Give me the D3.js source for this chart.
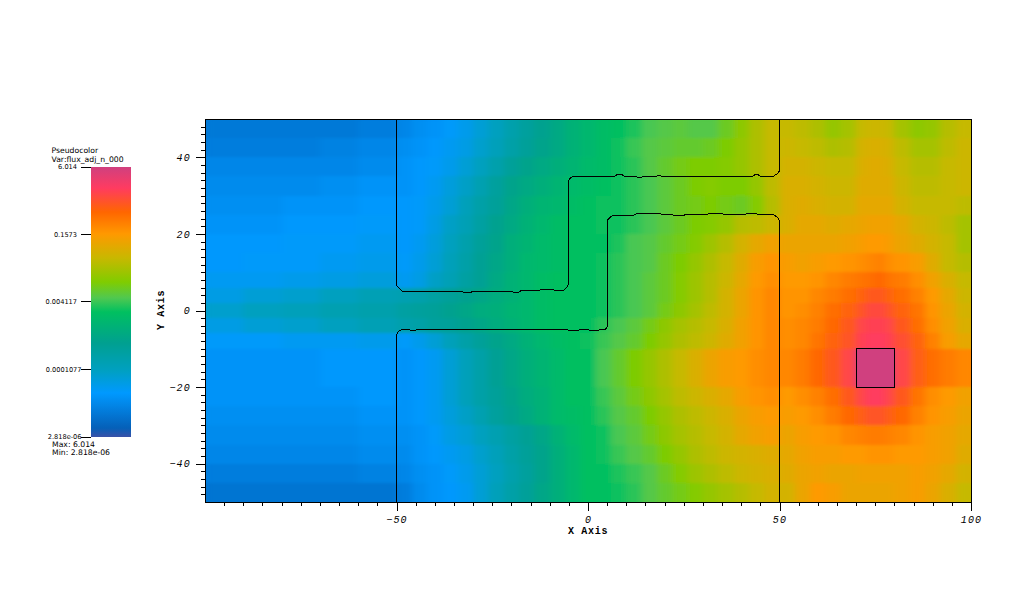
<!DOCTYPE html>
<html lang="en">
  <head>
    <meta charset="UTF-8" />
    <title>Pseudocolor flux_adj_n_000</title>
    <style>
      html, body { margin: 0; background: #fff; }
      svg { display: block; }
      .axis path, .axis line { stroke: #000; shape-rendering: crispEdges; }
      .axis text { font: italic 10px "Liberation Mono", monospace; letter-spacing: 1.2px; fill: #000; }
      .title { font: bold 10px "Liberation Mono", monospace; letter-spacing: 0.7px; fill: #000; }
      .legend text { font: 7.7px "DejaVu Sans", sans-serif; fill: #000; }
      .legend text.tick { font-size: 6.6px; }
    </style>
  </head>
  <body>
    <svg id="chart" width="1024" height="591"></svg>

    <script src="https://d3js.org/d3.v7.min.js"></script>

    <script>
      // cell edges of the mesh, in axis units
      const xEdges = [-100, -90, -80, -70, -60, -50, -46, -42, -38, -34, -30, -26, -22, -18, -14, -10, -6, -2, 2, 6, 10, 14, 18, 22, 26, 30, 34, 38, 42, 46, 50, 54, 58, 62, 66, 70, 72.5, 75, 77.5, 80, 84, 88, 92, 96, 100];
      const yEdges = [50, 45, 40, 35, 30, 25, 20, 15, 10, 6, 2, -2, -6, -10, -20, -25, -30, -35, -40, -45, -50];

      // flux, as % of the way up the log colour bar
      const levels = [
        [9, 9, 9, 9, 10, 12, 14, 15, 17, 19, 22, 25, 29, 32, 35, 38, 41, 43, 45, 46, 48, 51, 52, 53, 52, 52, 55, 59, 63, 66, 66, 65, 63, 60, 62, 66, 67, 67, 66, 62, 59, 60, 64, 66],
        [10, 10, 10, 11, 12, 14, 15, 16, 18, 20, 23, 26, 30, 33, 36, 38, 41, 43, 45, 47, 50, 52, 53, 54, 54, 55, 57, 60, 63, 66, 67, 66, 65, 63, 64, 68, 69, 69, 68, 65, 62, 62, 65, 67],
        [12, 12, 12, 12, 13, 15, 16, 17, 19, 22, 25, 29, 33, 36, 38, 40, 42, 44, 45, 47, 49, 52, 54, 56, 57, 57, 58, 60, 63, 66, 68, 68, 67, 66, 66, 69, 70, 70, 69, 66, 64, 64, 66, 67],
        [13, 13, 13, 14, 15, 15, 16, 18, 21, 24, 28, 32, 36, 38, 40, 42, 44, 45, 46, 47, 49, 51, 53, 55, 57, 58, 57, 57, 60, 65, 69, 69, 68, 67, 67, 70, 70, 70, 70, 67, 65, 65, 66, 67],
        [14, 14, 15, 15, 16, 16, 17, 19, 22, 26, 30, 33, 37, 40, 42, 43, 45, 46, 47, 47, 49, 51, 53, 55, 56, 57, 56, 55, 58, 64, 69, 70, 69, 68, 68, 71, 71, 71, 71, 68, 66, 66, 66, 65],
        [15, 15, 16, 16, 17, 16, 17, 20, 24, 27, 31, 35, 38, 41, 43, 45, 46, 46, 47, 47, 49, 51, 53, 55, 57, 58, 60, 64, 65, 67, 69, 71, 71, 70, 71, 72, 73, 73, 73, 71, 68, 67, 65, 62],
        [16, 16, 17, 17, 18, 16, 18, 21, 25, 29, 33, 36, 40, 42, 44, 45, 46, 46, 46, 48, 51, 52, 54, 56, 58, 61, 64, 68, 71, 73, 72, 72, 72, 72, 73, 74, 75, 75, 74, 72, 70, 68, 66, 62],
        [16, 17, 17, 18, 19, 17, 19, 22, 26, 30, 34, 37, 40, 43, 44, 45, 46, 46, 47, 49, 51, 52, 55, 57, 60, 63, 66, 70, 74, 76, 74, 73, 74, 75, 76, 77, 78, 79, 77, 76, 74, 70, 66, 64],
        [18, 18, 19, 20, 21, 18, 20, 24, 27, 31, 34, 38, 41, 43, 45, 46, 46, 46, 47, 49, 51, 53, 55, 58, 61, 64, 67, 71, 75, 77, 75, 75, 76, 78, 80, 81, 82, 83, 81, 80, 77, 73, 69, 66],
        [20, 22, 23, 25, 27, 28, 29, 31, 33, 35, 37, 39, 41, 43, 45, 46, 46, 46, 47, 49, 51, 53, 55, 58, 61, 64, 68, 72, 76, 78, 76, 76, 78, 80, 82, 84, 86, 86, 84, 82, 79, 75, 71, 67],
        [23, 25, 26, 28, 29, 31, 32, 33, 35, 37, 39, 40, 42, 43, 45, 46, 46, 46, 47, 49, 51, 53, 56, 59, 62, 65, 68, 72, 76, 78, 76, 77, 79, 82, 84, 87, 89, 89, 87, 84, 81, 76, 72, 68],
        [20, 22, 23, 25, 27, 29, 30, 32, 33, 35, 37, 39, 41, 43, 45, 46, 46, 46, 49, 51, 53, 56, 59, 62, 64, 66, 69, 73, 76, 78, 77, 78, 80, 83, 86, 90, 91, 91, 90, 86, 82, 77, 73, 69],
        [17, 17, 18, 18, 19, 17, 19, 22, 26, 30, 33, 36, 38, 41, 43, 45, 46, 47, 50, 52, 54, 57, 60, 63, 65, 67, 70, 73, 76, 78, 77, 78, 81, 84, 87, 91, 92, 92, 91, 88, 84, 79, 74, 71],
        [15, 15, 15, 16, 16, 15, 16, 18, 22, 26, 30, 34, 37, 40, 42, 44, 46, 46, 51, 54, 57, 60, 63, 66, 69, 72, 74, 75, 77, 78, 78, 80, 83, 86, 90, 100, 100, 100, 100, 90, 85, 82, 80, 78],
        [15, 15, 15, 15, 16, 15, 16, 18, 22, 26, 30, 33, 36, 39, 41, 44, 46, 46, 50, 53, 56, 59, 62, 65, 67, 69, 71, 74, 76, 77, 75, 77, 79, 82, 86, 90, 92, 92, 90, 86, 81, 77, 75, 73],
        [14, 14, 14, 14, 15, 15, 16, 18, 21, 24, 28, 32, 35, 38, 41, 44, 45, 46, 49, 52, 54, 57, 60, 63, 65, 67, 69, 72, 74, 75, 74, 75, 77, 80, 83, 85, 87, 87, 85, 83, 79, 76, 74, 72],
        [13, 13, 13, 13, 14, 14, 15, 17, 20, 22, 25, 28, 31, 34, 37, 41, 44, 46, 47, 51, 53, 56, 59, 62, 64, 66, 68, 71, 73, 74, 72, 74, 75, 76, 78, 79, 80, 80, 79, 78, 76, 74, 73, 71],
        [12, 12, 12, 12, 13, 13, 15, 16, 18, 20, 23, 26, 30, 33, 36, 40, 43, 46, 47, 50, 52, 54, 57, 60, 63, 65, 67, 68, 69, 70, 71, 73, 74, 74, 75, 75, 76, 76, 76, 75, 75, 74, 73, 70],
        [10, 10, 10, 10, 11, 12, 14, 15, 17, 19, 22, 25, 29, 32, 36, 40, 43, 46, 46, 48, 50, 52, 55, 58, 61, 63, 65, 67, 68, 69, 70, 72, 73, 72, 72, 73, 73, 73, 73, 73, 74, 73, 71, 68],
        [8, 8, 8, 8, 8, 10, 13, 15, 16, 18, 22, 26, 30, 33, 37, 40, 43, 46, 46, 47, 49, 52, 54, 56, 58, 60, 62, 64, 66, 68, 68, 72, 75, 74, 72, 72, 72, 72, 72, 73, 74, 72, 69, 66]
      ];

      // wall outlines
      const upperWall = [[-50, 50], [-50, 6.5], [-49, 5.5], [-48.5, 5], [-33, 5], [-32.5, 4.8], [-30.5, 4.8], [-30, 5], [-20, 5], [-19.5, 4.8], [-18, 4.8], [-17.5, 5.2], [-13, 5.2], [-12.5, 5.4], [-9, 5.4], [-8.5, 5.2], [-6.5, 5.2], [-5.5, 6], [-5, 7], [-5, 34], [-4.5, 34.7], [-3.5, 35.1], [7, 35.1], [7.5, 35.4], [9, 35.4], [9.5, 35.1], [12, 35], [13, 34.8], [14, 34.8], [15, 35.1], [18, 35.1], [18.5, 35.3], [19, 35.1], [43, 35.1], [43.5, 35.4], [44.5, 35.4], [45, 35.1], [48.5, 35.1], [49.5, 35.8], [50, 36.5], [50, 50]];
      const lowerWall = [[-50, -50], [-50, -6.5], [-49.5, -5.5], [-48.5, -4.9], [-47, -4.9], [-46.5, -5.1], [-45, -5.1], [-44.5, -4.9], [-31, -4.9], [-30.5, -5.1], [-30, -4.9], [-5.5, -4.9], [-5, -5.2], [-2.5, -5.2], [-2, -4.9], [0, -4.9], [0.5, -5.3], [2.5, -5.3], [3, -5], [4.5, -5], [5, -4.2], [5, 23.5], [6, 24.6], [7, 24.9], [12, 24.9], [12.5, 25.2], [19, 25.2], [19.5, 25], [22, 25], [22.5, 24.8], [25, 24.8], [25.5, 25.1], [31, 25.1], [31.5, 25.3], [35, 25.3], [35.5, 25], [41, 25], [41.5, 25.3], [44, 25.3], [44.5, 25], [48.5, 25], [49.5, 24.3], [50, 23.5], [50, -50]];
      const sourceBox = [[70, -10], [80, -10], [80, -20], [70, -20], [70, -10]];

      const xMajor = [-50, 0, 50, 100];
      const xMinor = d3.range(-95, 100, 5).filter(v => !xMajor.includes(v));
      const xLabels = ["\u221250", "0", "50", "100"];
      const yMajor = [40, 20, 0, -20, -40];
      const yMinor = d3.range(-48, 50, 2).filter(v => !yMajor.includes(v));
      const yLabels = ["40", "20", "0", "\u221220", "\u221240"];

      const legendValues = [6.014, 0.1573, 0.004117, 0.0001077, 2.818e-6];
      const legendLabels = ["6.014", "0.1573", "0.004117", "0.0001077", "2.818e-06"];

      // colour table of the bar, bottom to top
      const paletteStops = [0, 3.3, 16.3, 24.8, 34.8, 46.3, 51.5, 57.4, 66.3, 75.2, 83.3, 92.2, 100];
      const paletteColors = ["#3a52a8", "#0560b8", "#0099ff", "#00a0c0", "#00a090", "#00c060", "#50c850", "#80cc00", "#c8b800", "#ff9900", "#ff6600", "#ff3b60", "#d0407f"];

      const svg = d3.select("#chart");
      const color = d3.scaleLinear().domain(paletteStops).range(paletteColors);
      const x = d3.scaleLinear().domain([-100, 100]).range([205, 971]);
      const y = d3.scaleLinear().domain([-50, 50]).range([502, 119]);

      const defs = svg.append("defs");
      defs.append("clipPath").attr("id", "plotClip")
        .append("rect")
        .attr("x", x(-100)).attr("y", y(50))
        .attr("width", x(100) - x(-100)).attr("height", y(-50) - y(50));
      // softens the column steps, the rows stay visible like in the original
      defs.append("filter").attr("id", "soften")
        .attr("x", "-5%").attr("y", "-5%").attr("width", "110%").attr("height", "110%")
        .append("feGaussianBlur").attr("stdDeviation", "3.5 1.5");

      // pseudocolor cells
      const cells = [];
      levels.forEach((row, r) => {
        row.forEach((v, c) => {
          cells.push({ x0: xEdges[c], x1: xEdges[c + 1], y0: yEdges[r], y1: yEdges[r + 1], v: v });
        });
      });

      function drawCells(g) {
        g.selectAll("rect")
          .data(cells)
          .enter()
          .append("rect")
          .attr("x", d => x(d.x0))
          .attr("y", d => y(d.y0))
          .attr("width", d => x(d.x1) - x(d.x0) + 0.5)
          .attr("height", d => y(d.y1) - y(d.y0) + 0.5)
          .attr("fill", d => color(d.v))
          .attr("shape-rendering", "crispEdges");
      }

      const plot = svg.append("g").attr("clip-path", "url(#plotClip)");
      // plain copy underneath so the blur does not fade at the plot edge
      plot.append("g").call(drawCells);
      plot.append("g").attr("filter", "url(#soften)").call(drawCells);

      // walls and source box
      const line = d3.line().x(d => x(d[0])).y(d => y(d[1]));
      svg.append("path")
        .attr("d", line(sourceBox))
        .attr("fill", color(100));
      svg.append("g")
        .selectAll("path")
        .data([upperWall, lowerWall, sourceBox])
        .enter()
        .append("path")
        .attr("d", line)
        .attr("fill", "none")
        .attr("stroke", "#000")
        .attr("stroke-width", 1)
        .attr("shape-rendering", "crispEdges");

      // frame
      svg.append("rect")
        .attr("x", x(-100))
        .attr("y", y(50))
        .attr("width", x(100) - x(-100))
        .attr("height", y(-50) - y(50))
        .attr("fill", "none")
        .attr("stroke", "#000")
        .attr("shape-rendering", "crispEdges");

      // axes
      const bottom = y(-50);
      const left = x(-100);
      svg.append("g").attr("class", "axis").attr("transform", `translate(0,${bottom})`)
        .call(d3.axisBottom(x).tickValues(xMinor).tickSize(4).tickSizeOuter(0).tickFormat(""));
      svg.append("g").attr("class", "axis").attr("transform", `translate(0,${bottom})`)
        .call(d3.axisBottom(x).tickValues(xMajor).tickSize(9).tickSizeOuter(0).tickPadding(5).tickFormat((d, i) => xLabels[i]));
      svg.append("g").attr("class", "axis").attr("transform", `translate(${left},0)`)
        .call(d3.axisLeft(y).tickValues(yMinor).tickSize(4).tickSizeOuter(0).tickFormat(""));
      svg.append("g").attr("class", "axis").attr("transform", `translate(${left},0)`)
        .call(d3.axisLeft(y).tickValues(yMajor).tickSize(9).tickSizeOuter(0).tickPadding(5).tickFormat((d, i) => yLabels[i]));

      svg.append("text").attr("class", "title")
        .attr("x", 588).attr("y", 534).attr("text-anchor", "middle")
        .text("X Axis");
      svg.append("text").attr("class", "title")
        .attr("transform", "translate(164,310) rotate(-90)").attr("text-anchor", "middle")
        .text("Y Axis");

      // colour bar
      const legendY = d3.scaleLog().domain([2.818e-6, 6.014]).range([437, 167]);
      const gradient = defs.append("linearGradient").attr("id", "bar")
        .attr("x1", 0).attr("x2", 0).attr("y1", 1).attr("y2", 0);
      gradient.selectAll("stop")
        .data(paletteStops)
        .enter()
        .append("stop")
        .attr("offset", d => `${d}%`)
        .attr("stop-color", (d, i) => paletteColors[i]);

      const legend = svg.append("g").attr("class", "legend");
      legend.append("rect")
        .attr("x", 91).attr("y", legendY(6.014))
        .attr("width", 40).attr("height", legendY(2.818e-6) - legendY(6.014))
        .attr("fill", "url(#bar)");
      legend.selectAll("line")
        .data(legendValues)
        .enter()
        .append("line")
        .attr("x1", 81).attr("x2", 91)
        .attr("y1", d => legendY(d)).attr("y2", d => legendY(d))
        .attr("stroke", "#000")
        .attr("shape-rendering", "crispEdges");
      legend.selectAll("text.tick")
        .data(legendValues)
        .enter()
        .append("text")
        .attr("class", "tick")
        .attr("x", (d, i) => (i === 3 || i === 4 ? 81.5 : 77))
        .attr("y", (d, i) => legendY(d) + (i === 4 ? 1.5 : 2.4))
        .attr("text-anchor", "end")
        .text((d, i) => legendLabels[i]);

      legend.append("text").attr("x", 51.5).attr("y", 152.5).text("Pseudocolor");
      legend.append("text").attr("x", 51.5).attr("y", 161.5).text("Var:flux_adj_n_000");
      legend.append("text").attr("x", 52).attr("y", 446.5).text("Max: 6.014");
      legend.append("text").attr("x", 52).attr("y", 455).text("Min: 2.818e-06");
    </script>
  </body>
</html>
